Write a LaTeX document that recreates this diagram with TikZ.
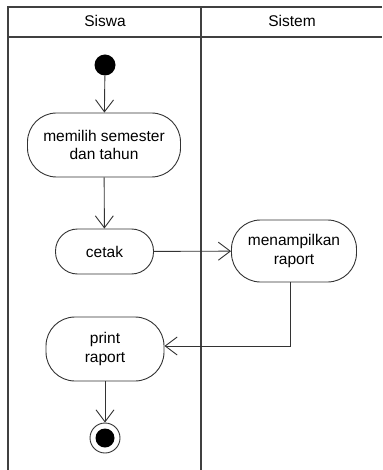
\documentclass[tikz,border=0pt]{standalone}
\usepackage{fontspec}
\setmainfont{Liberation Sans}
\usetikzlibrary{arrows.meta}
\tikzset{
  act/.style={draw=black!80, line width=0.9pt, rounded corners=29pt, align=center, inner sep=0pt,
    font=\fontsize{15.5}{18.5}\selectfont},
  flow/.style={draw=black!80, line width=0.9pt, -{Straight Barb[length=12pt,width=18pt]}},
  lane/.style={draw=black!75, line width=1.6pt},
  lanename/.style={font=\fontsize{15.5}{18.5}\selectfont}
}
\begin{document}
\begin{tikzpicture}[x=1pt,y=-1pt]
  \useasboundingbox (0,0) rectangle (382,470);
  % swimlanes
  \draw[lane] (382,7) -- (8,7) -- (8,470);
  \draw[lane] (8,37) -- (382,37);
  \draw[lane] (201,7) -- (201,470);
  \node[lanename] (siswa) at (105,21) {Siswa};
  \node[lanename] (sistem) at (292,21) {Sistem};
  % activities
  \node[circle, fill=black, minimum size=21pt, inner sep=0pt] (start) at (105,65) {};
  \node[act, minimum width=153pt, minimum height=64pt] (pilih) at (104,145) {memilih semester\\dan tahun};
  \node[act, rounded corners=22pt, minimum width=98pt, minimum height=45pt] (cetak) at (104.5,251.5) {cetak};
  \node[act, minimum width=125pt, minimum height=62pt] (tampil) at (294,251) {menampilkan\\raport};
  \node[act, minimum width=118pt, minimum height=64pt] (print) at (105,349) {print\\raport};
  \node[circle, draw=black!80, line width=0.9pt, fill=white, minimum size=30pt, inner sep=0pt] (end) at (105,438) {};
  \node[circle, fill=black, minimum size=19pt, inner sep=0pt] (endin) at (end) {};
  % flows
  \draw[flow] (start) -- (pilih);
  \draw[flow] (pilih) -- (cetak);
  \draw[flow] (cetak) -- (tampil);
  \draw[flow] ([xshift=-4pt]tampil.south) |- ([yshift=3pt]print.east);
  \draw[flow] (print) -- (end);
\end{tikzpicture}
\end{document}
